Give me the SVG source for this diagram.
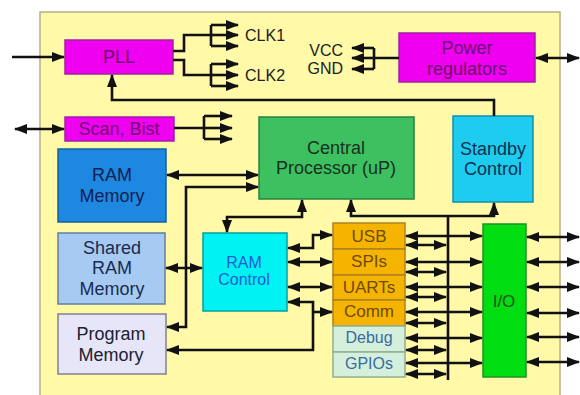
<svg xmlns="http://www.w3.org/2000/svg" width="580" height="395" viewBox="0 0 580 395">
<defs>
<marker id="ah" viewBox="0 0 13 10" refX="12" refY="5" markerWidth="13" markerHeight="10" markerUnits="userSpaceOnUse" orient="auto-start-reverse"><path d="M0,0 L13,5 L0,10 z" fill="#111"/></marker>
<style>
text{font-family:"Liberation Sans",Arial,sans-serif;text-anchor:middle}
.l{font-size:18px}
.m{font-size:17px}
.s{font-size:16px}
.c path{fill:none;stroke:#111;stroke-width:2.6}
.e{marker-end:url(#ah)}
.b{marker-start:url(#ah);marker-end:url(#ah)}
.mag{fill:#F000F0;stroke:#A020A0;stroke-width:1.5}
.magt{fill:#6A1070}
.org{fill:#F5B400;stroke:#B08020;stroke-width:1.5}
.orgt{fill:#704A00}
.dbg{fill:#D4F0DC;stroke:#90B090;stroke-width:1.5}
.dbgt{fill:#3A6AA0}
</style>
</defs>
<rect x="40" y="12" width="520" height="395" fill="#FFF9A8" stroke="#B8B088" stroke-width="1.5"/>

<g id="pll"><rect class="mag" x="65" y="40" width="108" height="34"/><text class="l magt" x="119" y="63">PLL</text></g>
<g id="scan"><rect class="mag" x="65" y="117" width="109" height="24"/><text class="l magt" x="119" y="135">Scan, Bist</text></g>
<g id="power"><rect class="mag" x="399" y="33" width="136" height="49"/><text class="l magt" x="467" y="54">Power</text><text class="l magt" x="467" y="75">regulators</text></g>
<g id="clk1"><text class="s" x="245" y="41" style="text-anchor:start" fill="#202020">CLK1</text></g>
<g id="clk2"><text class="s" x="245" y="81" style="text-anchor:start" fill="#202020">CLK2</text></g>
<g id="vcc"><text class="s" x="343" y="56" style="text-anchor:end" fill="#202020">VCC</text></g>
<g id="gnd"><text class="s" x="343" y="74" style="text-anchor:end" fill="#202020">GND</text></g>
<g id="cpu"><rect x="259" y="117" width="155" height="82" fill="#3CC060" stroke="#2A8040" stroke-width="1.5"/><text class="l" x="336" y="154" fill="#1A3020">Central</text><text class="l" x="336" y="174" fill="#1A3020">Processor (uP)</text></g>
<g id="standby"><rect x="453" y="116" width="80" height="86" fill="#1ECCF0" stroke="#1090B0" stroke-width="1.5"/><text class="l" x="493" y="155" fill="#103050">Standby</text><text class="l" x="493" y="175" fill="#103050">Control</text></g>
<g id="ram"><rect x="58" y="149" width="108" height="73" fill="#1E88E0" stroke="#1060A0" stroke-width="1.5"/><text class="l" x="112" y="181" fill="#102050">RAM</text><text class="l" x="112" y="202" fill="#102050">Memory</text></g>
<g id="shared"><rect x="58" y="233" width="107" height="71" fill="#A6CAF2" stroke="#6080A0" stroke-width="1.5"/><text class="l" x="112" y="254" fill="#1A2A50">Shared</text><text class="l" x="112" y="274" fill="#1A2A50">RAM</text><text class="l" x="112" y="295" fill="#1A2A50">Memory</text></g>
<g id="program"><rect x="58" y="314" width="108" height="60" fill="#E6E6F8" stroke="#808090" stroke-width="1.5"/><text class="l" x="111" y="340" fill="#202030">Program</text><text class="l" x="111" y="361" fill="#202030">Memory</text></g>
<g id="ramctl"><rect x="203" y="233" width="84" height="78" fill="#00F2F2" stroke="#00A0A0" stroke-width="1.5"/><text class="s" x="244" y="268" fill="#1A5FD0">RAM</text><text class="s" x="244" y="285" fill="#1A5FD0">Control</text></g>
<g id="usb"><rect class="org" x="333" y="223" width="72" height="26"/><text class="m orgt" x="369" y="242">USB</text></g>
<g id="spis"><rect class="org" x="333" y="249" width="72" height="26"/><text class="m orgt" x="369" y="267">SPIs</text></g>
<g id="uarts"><rect class="org" x="333" y="275" width="72" height="25"/><text class="m orgt" x="369" y="293">UARTs</text></g>
<g id="comm"><rect class="org" x="333" y="300" width="72" height="26"/><text class="m orgt" x="369" y="317">Comm</text></g>
<g id="debug"><rect class="dbg" x="333" y="326" width="72" height="26"/><text class="s dbgt" x="369" y="343">Debug</text></g>
<g id="gpios"><rect class="dbg" x="333" y="352" width="72" height="25"/><text class="s dbgt" x="369" y="369">GPIOs</text></g>
<g id="io"><rect x="483" y="224" width="43" height="153" fill="#00DD10" stroke="#209020" stroke-width="1.5"/><text class="m" x="504" y="307" fill="#205020">I/O</text></g>

<g id="connectors" class="c">
<path class="e" d="M12,57 H64"/>
<path d="M173,51 H184 V35 H211 M211,25 V46"/>
<path class="e" d="M211,25 H238"/><path class="e" d="M211,35 H238"/><path class="e" d="M211,46 H238"/>
<path d="M173,60 H184 V75 H211 M211,64 V86"/>
<path class="e" d="M211,64 H238"/><path class="e" d="M211,75 H238"/><path class="e" d="M211,86 H238"/>
<path class="e" d="M494,116 V100 H112 V75"/>
<path class="b" d="M536,58 H579"/>
<path d="M399,58 H374 M374,48 V69"/>
<path class="e" d="M374,48 H352"/><path class="e" d="M374,58 H352"/><path class="e" d="M374,69 H352"/>
<path class="b" d="M15,129 H64"/>
<path d="M174,128 H204 M204,116 V139"/>
<path class="e" d="M204,116 H232"/><path class="e" d="M204,128 H232"/><path class="e" d="M204,139 H232"/>
<path class="b" d="M167,175 H258"/>
<path class="b" d="M258,187 H186 V327 H167"/>
<path class="b" d="M302,200 V217 H227 V232"/>
<path class="b" d="M351,200 V216 H494 V203"/>
<path d="M448,216 V380"/>
<path class="b" d="M166,268 H202"/>
<path class="b" d="M288,248 H313 V235 H332"/>
<path class="b" d="M288,262 H332"/>
<path class="b" d="M288,287 H332"/>
<path class="b" d="M288,302 H313 V350 H167"/>
<path class="e" d="M313,312 H332"/>
<path class="b" d="M406,236 H482"/><path class="b" d="M406,245 H446"/>
<path class="b" d="M406,262 H482"/><path class="b" d="M406,272 H446"/>
<path class="b" d="M406,287 H482"/><path class="b" d="M406,297 H446"/>
<path class="b" d="M406,312 H482"/><path class="b" d="M406,323 H446"/>
<path class="b" d="M406,338 H482"/><path class="b" d="M406,350 H446"/>
<path class="b" d="M406,363 H482"/><path class="b" d="M406,374 H446"/>
<path class="b" d="M527,237 H579"/><path class="b" d="M527,262 H579"/><path class="b" d="M527,287 H579"/>
<path class="b" d="M527,313 H579"/><path class="b" d="M527,337 H579"/><path class="b" d="M527,362 H579"/>
</g>
</svg>
